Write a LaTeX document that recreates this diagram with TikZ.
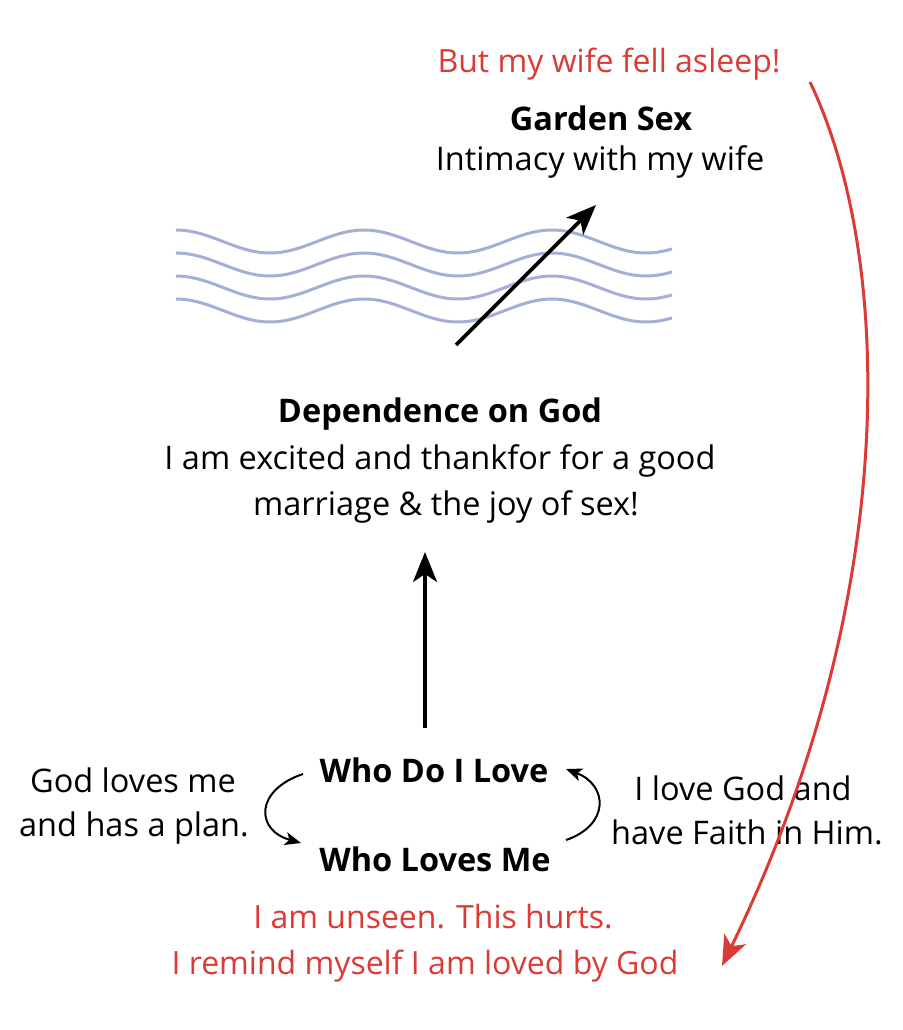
\documentclass[tikz,border=0pt]{standalone}
\usepackage{fontspec}
\setmainfont{Open Sans}
\usetikzlibrary{arrows.meta}
\definecolor{myred}{HTML}{DC3A35}
\definecolor{wave}{HTML}{A4AED6}
\tikzset{
  txt/.style={anchor=base, inner sep=0pt, font=\fontsize{32.5}{38}\selectfont},
  hdr/.style={txt, font=\fontsize{32.5}{38}\selectfont\bfseries},
  rtxt/.style={txt, text=myred, font=\fontsize{32}{38}\selectfont},
  wavy/.style={wave, line width=3pt, line join=round},
  blk/.style={-{Stealth[length=30pt,width=24pt,inset=8pt]}, line width=3.6pt},
  cyc/.style={-{Stealth[length=16pt,width=13pt,inset=4pt]}, line width=2pt},
  rarr/.style={myred, line width=3pt, -{Stealth[length=30pt,width=24pt,inset=8pt]}}
}
\begin{document}
\begin{tikzpicture}[x=1pt,y=-1pt]
\useasboundingbox (0,0) rectangle (902,1030);
% texts
\node[rtxt] (asleep) at (609,73) {But my wife fell asleep!};
\node[hdr] (garden) at (601,131) {Garden Sex};
\node[txt] (intim) at (600,170) {Intimacy with my wife};
\node[hdr] (dep) at (440,422) {Dependence on God};
\node[txt] (dep2) at (440,469) {I am excited and thankfor for a good};
\node[txt] (dep3) at (446,515) {marriage \& the joy of sex!};
\node[hdr] (whodo) at (434,782) {Who Do I Love};
\node[hdr] (wholoves) at (435,871) {Who Loves Me};
\node[txt] (gl1) at (133,792) {God loves me};
\node[txt] (gl2) at (134,836) {and has a plan.};
\node[txt] (lg1) at (743,800) {I love God and};
\node[txt] (lg2) at (747,844) {have Faith in Him.};
\node[rtxt] (un1) at (433,928) {I am unseen. This hurts.};
\node[rtxt] (un2) at (425,974) {I remind myself I am loved by God};
% waves
\foreach \yy in {230,253,276,299}{
  \draw[wavy] plot[domain=176:672, samples=160] (\x, {\yy + 11.5*(1-cos(((\x-176)/188)*360))});
}
% arrows
\coordinate (w0) at (456,345);
\coordinate (w1) at (596,205);
\draw[blk] (w0) -- (w1);
\coordinate (v0) at (425,728);
\coordinate (v1) at (425,552);
\draw[blk] (v0) -- (v1);
\draw[cyc] (303,774) .. controls (255,790) and (255,830) .. (301,843);
\draw[cyc] (566,840) .. controls (610,825) and (608,785) .. (566,769);
\coordinate (r0) at (810,82);
\coordinate (r1) at (722,966);
\draw[rarr] (r0) .. controls (895,260) and (900,600) .. (r1);
\end{tikzpicture}
\end{document}
